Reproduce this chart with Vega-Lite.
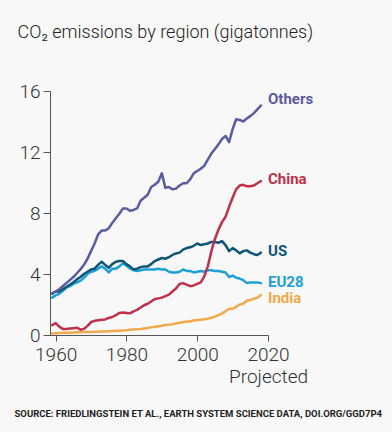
{
  "$schema": "https://vega.github.io/schema/vega-lite/v6.json",
  "width": 218,
  "height": 244,
  "autosize": {"type": "none"},
  "padding": {"left": 50, "top": 91, "right": 124, "bottom": 97},
  "background": "#f8f8f8",
  "config": {"view": {"stroke": null}, "font": "Roboto"},
  "datasets": {
    "emissions": [
      {"year": 1959, "Others": 2.75, "China": 0.65, "US": 2.7, "EU28": 2.45, "India": 0.1},
      {"year": 1960, "Others": 2.85, "China": 0.78, "US": 2.85, "EU28": 2.6, "India": 0.12},
      {"year": 1961, "Others": 3.0, "China": 0.55, "US": 2.85, "EU28": 2.7, "India": 0.13},
      {"year": 1962, "Others": 3.2, "China": 0.4, "US": 3.0, "EU28": 2.9, "India": 0.14},
      {"year": 1963, "Others": 3.4, "China": 0.4, "US": 3.15, "EU28": 3.1, "India": 0.15},
      {"year": 1964, "Others": 3.6, "China": 0.42, "US": 3.3, "EU28": 3.2, "India": 0.15},
      {"year": 1965, "Others": 3.8, "China": 0.45, "US": 3.45, "EU28": 3.35, "India": 0.17},
      {"year": 1966, "Others": 4.05, "China": 0.48, "US": 3.65, "EU28": 3.45, "India": 0.18},
      {"year": 1967, "Others": 4.3, "China": 0.35, "US": 3.8, "EU28": 3.55, "India": 0.18},
      {"year": 1968, "Others": 4.6, "China": 0.4, "US": 4.0, "EU28": 3.75, "India": 0.2},
      {"year": 1969, "Others": 5.0, "China": 0.6, "US": 4.15, "EU28": 4.0, "India": 0.2},
      {"year": 1970, "Others": 5.5, "China": 0.85, "US": 4.3, "EU28": 4.15, "India": 0.2},
      {"year": 1971, "Others": 6.0, "China": 0.93, "US": 4.35, "EU28": 4.2, "India": 0.21},
      {"year": 1972, "Others": 6.6, "China": 0.97, "US": 4.6, "EU28": 4.35, "India": 0.22},
      {"year": 1973, "Others": 6.85, "China": 1.0, "US": 4.8, "EU28": 4.5, "India": 0.23},
      {"year": 1974, "Others": 6.85, "China": 1.02, "US": 4.6, "EU28": 4.35, "India": 0.23},
      {"year": 1975, "Others": 7.0, "China": 1.12, "US": 4.4, "EU28": 4.1, "India": 0.25},
      {"year": 1976, "Others": 7.35, "China": 1.18, "US": 4.65, "EU28": 4.35, "India": 0.26},
      {"year": 1977, "Others": 7.65, "China": 1.3, "US": 4.8, "EU28": 4.35, "India": 0.28},
      {"year": 1978, "Others": 7.95, "China": 1.45, "US": 4.85, "EU28": 4.5, "India": 0.28},
      {"year": 1979, "Others": 8.3, "China": 1.48, "US": 4.85, "EU28": 4.7, "India": 0.3},
      {"year": 1980, "Others": 8.3, "China": 1.45, "US": 4.65, "EU28": 4.55, "India": 0.31},
      {"year": 1981, "Others": 8.15, "China": 1.42, "US": 4.5, "EU28": 4.35, "India": 0.34},
      {"year": 1982, "Others": 8.2, "China": 1.55, "US": 4.3, "EU28": 4.25, "India": 0.36},
      {"year": 1983, "Others": 8.3, "China": 1.65, "US": 4.35, "EU28": 4.2, "India": 0.38},
      {"year": 1984, "Others": 8.8, "China": 1.8, "US": 4.45, "EU28": 4.25, "India": 0.4},
      {"year": 1985, "Others": 9.0, "China": 1.95, "US": 4.5, "EU28": 4.3, "India": 0.43},
      {"year": 1986, "Others": 9.2, "China": 2.05, "US": 4.5, "EU28": 4.3, "India": 0.46},
      {"year": 1987, "Others": 9.7, "China": 2.2, "US": 4.65, "EU28": 4.3, "India": 0.5},
      {"year": 1988, "Others": 9.85, "China": 2.35, "US": 4.85, "EU28": 4.3, "India": 0.54},
      {"year": 1989, "Others": 10.05, "China": 2.4, "US": 4.95, "EU28": 4.35, "India": 0.58},
      {"year": 1990, "Others": 10.6, "China": 2.45, "US": 5.05, "EU28": 4.3, "India": 0.6},
      {"year": 1991, "Others": 9.65, "China": 2.55, "US": 5.0, "EU28": 4.3, "India": 0.65},
      {"year": 1992, "Others": 9.7, "China": 2.65, "US": 5.1, "EU28": 4.15, "India": 0.68},
      {"year": 1993, "Others": 9.55, "China": 2.85, "US": 5.25, "EU28": 4.1, "India": 0.71},
      {"year": 1994, "Others": 9.6, "China": 3.05, "US": 5.35, "EU28": 4.1, "India": 0.76},
      {"year": 1995, "Others": 9.8, "China": 3.35, "US": 5.4, "EU28": 4.15, "India": 0.8},
      {"year": 1996, "Others": 9.95, "China": 3.4, "US": 5.6, "EU28": 4.3, "India": 0.84},
      {"year": 1997, "Others": 9.95, "China": 3.3, "US": 5.7, "EU28": 4.2, "India": 0.88},
      {"year": 1998, "Others": 10.2, "China": 3.2, "US": 5.75, "EU28": 4.2, "India": 0.89},
      {"year": 1999, "Others": 10.6, "China": 3.25, "US": 5.85, "EU28": 4.1, "India": 0.95},
      {"year": 2000, "Others": 10.75, "China": 3.35, "US": 6.0, "EU28": 4.15, "India": 0.98},
      {"year": 2001, "Others": 10.9, "China": 3.45, "US": 5.9, "EU28": 4.2, "India": 1.0},
      {"year": 2002, "Others": 11.1, "China": 3.85, "US": 5.95, "EU28": 4.15, "India": 1.03},
      {"year": 2003, "Others": 11.5, "China": 4.5, "US": 6.0, "EU28": 4.25, "India": 1.07},
      {"year": 2004, "Others": 11.9, "China": 5.5, "US": 6.1, "EU28": 4.25, "India": 1.13},
      {"year": 2005, "Others": 12.2, "China": 6.3, "US": 6.1, "EU28": 4.2, "India": 1.2},
      {"year": 2006, "Others": 12.5, "China": 6.9, "US": 6.05, "EU28": 4.2, "India": 1.3},
      {"year": 2007, "Others": 12.85, "China": 7.4, "US": 6.15, "EU28": 4.15, "India": 1.42},
      {"year": 2008, "Others": 13.05, "China": 7.75, "US": 5.9, "EU28": 4.1, "India": 1.55},
      {"year": 2009, "Others": 12.65, "China": 8.4, "US": 5.5, "EU28": 3.8, "India": 1.72},
      {"year": 2010, "Others": 13.5, "China": 9.0, "US": 5.7, "EU28": 3.9, "India": 1.72},
      {"year": 2011, "Others": 14.15, "China": 9.55, "US": 5.55, "EU28": 3.75, "India": 1.85},
      {"year": 2012, "Others": 14.1, "China": 9.8, "US": 5.35, "EU28": 3.7, "India": 2.0},
      {"year": 2013, "Others": 14.0, "China": 9.85, "US": 5.5, "EU28": 3.6, "India": 2.05},
      {"year": 2014, "Others": 14.2, "China": 9.75, "US": 5.55, "EU28": 3.4, "India": 2.25},
      {"year": 2015, "Others": 14.35, "China": 9.75, "US": 5.4, "EU28": 3.45, "India": 2.3},
      {"year": 2016, "Others": 14.55, "China": 9.8, "US": 5.3, "EU28": 3.45, "India": 2.38},
      {"year": 2017, "Others": 14.8, "China": 9.95, "US": 5.25, "EU28": 3.45, "India": 2.45},
      {"year": 2018, "Others": 15.05, "China": 10.1, "US": 5.4, "EU28": 3.4, "India": 2.62}
    ],
    "labels": [
      {"year": 2020, "value": 15.45, "region": "Others"},
      {"year": 2020, "value": 10.25, "region": "China"},
      {"year": 2020, "value": 5.5, "region": "US"},
      {"year": 2020, "value": 3.5, "region": "EU28"},
      {"year": 2020, "value": 2.4, "region": "India"}
    ]
  },
  "layer": [
    {
      "data": {"name": "emissions"},
      "transform": [{"fold": ["India", "EU28", "US", "China", "Others"], "as": ["region", "value"]}],
      "mark": {"type": "line", "strokeWidth": 2.5, "strokeJoin": "round", "strokeCap": "round"},
      "encoding": {
        "x": {
          "field": "year", "type": "quantitative",
          "scale": {"domain": [1958.4, 2020], "nice": false, "zero": false},
          "axis": {
            "values": [1960, 1970, 1980, 1990, 2000, 2010, 2020],
            "format": "d",
            "labelExpr": "datum.value % 20 == 0 ? (datum.value == 2020 ? ['2020', 'Projected'] : datum.label) : ''",
            "labelFontSize": 19, "labelFontWeight": 300, "labelColor": "#333",
            "labelLineHeight": 22, "labelPadding": 4, "labelFlush": false, "labelOverlap": false,
            "tickSize": 6, "tickColor": "#555", "domainColor": "#555", "grid": false,
            "title": "SOURCE: FRIEDLINGSTEIN ET AL., EARTH SYSTEM SCIENCE DATA, DOI.ORG/GGD7P4",
            "titleFont": "Roboto", "titleFontWeight": "bold", "titleFontSize": 9.5,
            "titleColor": "#222", "titleAnchor": "start", "titleAlign": "left",
            "titleBaseline": "alphabetic", "titleX": -36, "titleY": 81.5
          }
        },
        "y": {
          "field": "value", "type": "quantitative",
          "scale": {"domain": [0, 16], "nice": false},
          "axis": {
            "values": [0, 4, 8, 12, 16], "format": "d",
            "labelFontSize": 19, "labelFontWeight": 300, "labelColor": "#333", "labelPadding": 3,
            "tickSize": 7, "tickColor": "#555", "domainColor": "#555", "grid": false,
            "title": "CO₂ emissions by region (gigatonnes)",
            "titleAngle": 0, "titleAlign": "left", "titleBaseline": "alphabetic",
            "titleX": -33, "titleY": -54, "titleFontSize": 18, "titleFontWeight": 300, "titleColor": "#222"
          }
        },
        "color": {
          "field": "region", "type": "nominal",
          "scale": {"domain": ["Others", "China", "US", "EU28", "India"], "range": ["#5a5ca3", "#c1304b", "#0e5575", "#1ba0d7", "#f0a94b"]},
          "legend": null
        }
      }
    },
    {
      "data": {"name": "labels"},
      "mark": {"type": "text", "align": "left", "baseline": "middle", "fontWeight": "bold", "fontSize": 15},
      "encoding": {
        "x": {"field": "year", "type": "quantitative"},
        "y": {"field": "value", "type": "quantitative"},
        "text": {"field": "region"},
        "color": {"field": "region", "type": "nominal", "legend": null}
      }
    }
  ]
}
